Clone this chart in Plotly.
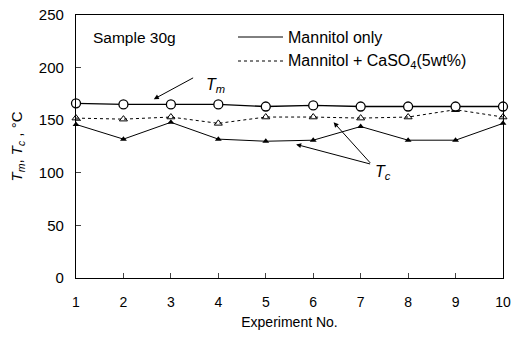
import plotly.graph_objects as go

experiments = [1, 2, 3, 4, 5, 6, 7, 8, 9, 10]
x_tick_labels = ["1", "2", "3", "4", "5", "6", "7", "8", "9", "10"]
tm_values = [166, 165, 165, 165, 163, 164, 163, 163, 163, 163]
tc_mannitol = [146, 132, 148, 132, 130, 131, 144, 131, 131, 147]
tc_caso4 = [152, 151, 153, 147, 153, 153, 152, 153, 160, 153]
y_ticks = [0, 50, 100, 150, 200, 250]

FONT = "Liberation Sans"
L, R, T, B = 76, 9, 15, 60
W, H = 512, 338
PW, PH = W - L - R, H - T - B

fig = go.Figure()
fig.add_trace(go.Scatter(x=experiments, y=tc_caso4, mode="lines+markers",
                         line=dict(color="black", width=1, dash="dot"),
                         marker=dict(symbol="triangle-up-open", size=7, color="black",
                                     line=dict(width=1, color="black")),
                         cliponaxis=False, showlegend=False))
fig.add_trace(go.Scatter(x=experiments, y=tc_mannitol, mode="lines+markers",
                         line=dict(color="black", width=1),
                         marker=dict(symbol="triangle-up", size=6, color="black"),
                         cliponaxis=False, showlegend=False))
fig.add_trace(go.Scatter(x=experiments, y=tm_values, mode="lines+markers",
                         line=dict(color="black", width=1.3),
                         marker=dict(symbol="circle", size=9, color="white",
                                     line=dict(width=1.3, color="black")),
                         cliponaxis=False, showlegend=False))

def px2paper(px, py):
    return (px - L) / PW, (H - B - py) / PH

shapes = []
for py, dash in [(37, "solid"), (61, "dot")]:
    x0, y0 = px2paper(238, py)
    x1, _ = px2paper(283, py)
    shapes.append(dict(type="line", xref="paper", yref="paper", x0=x0, x1=x1, y0=y0, y1=y0,
                       line=dict(color="black", width=1, dash=dash)))

annotations = []
sx, sy = px2paper(91, 37)
annotations.append(dict(xref="paper", yref="paper", x=sx, y=sy, text="Sample 30g",
                        showarrow=False, xanchor="left", yanchor="middle",
                        font=dict(family=FONT, size=15.5, color="black")))
for py, txt in [(37, "Mannitol only"), (61, "Mannitol + CaSO<sub>4</sub>(5wt%)")]:
    tx, ty = px2paper(286, py)
    annotations.append(dict(xref="paper", yref="paper", x=tx, y=ty, text=txt,
                            showarrow=False, xanchor="left", yanchor="middle",
                            font=dict(family=FONT, size=16, color="black")))

# Tm arrow and label
annotations.append(dict(x=2.64, y=170, ax=3.50, ay=191, xref="x", yref="y", axref="x", ayref="y",
                        text="", showarrow=True, arrowhead=2, arrowsize=1, arrowwidth=1,
                        arrowcolor="black"))
annotations.append(dict(x=3.95, y=183, xref="x", yref="y", text="<i>T</i><sub><i>m</i></sub>",
                        showarrow=False, font=dict(family=FONT, size=16, color="black")))
# Tc arrows and label
for hx, hy in [(5.64, 127), (6.43, 148)]:
    annotations.append(dict(x=hx, y=hy, ax=7.23, ay=108, xref="x", yref="y", axref="x", ayref="y",
                            text="", showarrow=True, arrowhead=2, arrowsize=1, arrowwidth=1,
                            arrowcolor="black"))
annotations.append(dict(x=7.47, y=100, xref="x", yref="y", text="<i>T</i><sub><i>c</i></sub>",
                        showarrow=False, font=dict(family=FONT, size=16, color="black")))

fig.update_layout(
    width=W, height=H,
    margin=dict(l=L, r=R, t=T, b=B, autoexpand=False),
    paper_bgcolor="white", plot_bgcolor="white",
    font=dict(family=FONT, size=15, color="black"),
    shapes=shapes, annotations=annotations,
    xaxis=dict(range=[1, 10], tickvals=experiments, ticktext=x_tick_labels,
               ticks="inside", ticklen=5, tickfont=dict(size=14),
               showline=True, linecolor="black", linewidth=1.3, mirror=True,
               showgrid=False, zeroline=False, ticklabelstandoff=11,
               ticklabeloverflow="allow", automargin=False,
               title=dict(text="Experiment No.", font=dict(size=14), standoff=8)),
    yaxis=dict(range=[0, 250], tickvals=y_ticks, ticks="inside", ticklen=5,
               showline=True, linecolor="black", linewidth=1.3, mirror=True,
               showgrid=False, zeroline=False, ticklabelstandoff=8,
               ticklabeloverflow="allow", automargin=False,
               title=dict(text="<i>T</i><sub><i>m</i></sub>, <i>T</i><sub><i>c</i></sub> , °C",
                          font=dict(size=15), standoff=12)),
)

fig.write_html("out.html")
